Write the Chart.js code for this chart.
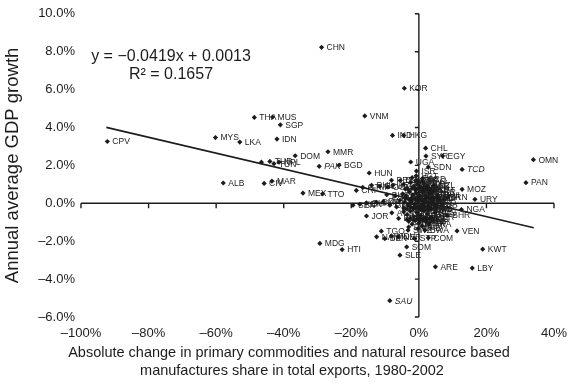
<!DOCTYPE html>
<html>
<head>
<meta charset="utf-8">
<script src="https://cdn.jsdelivr.net/npm/chart.js@4"></script>
<style>
  html, body { margin: 0; padding: 0; background: #fff; }
  #wrap { width: 577px; height: 388px; }
</style>
</head>
<body>
<div id="wrap"><canvas id="chart" width="577" height="388"></canvas></div>
<script>
"use strict";

// Country codes, export-structure change (%) and GDP growth (%)
const codes = [
  'CPV', 'MYS', 'LKA', 'THA', 'MUS', 'SGP', 'IDN', 'DOM', 'NPL', 'TUR', 'TUN', '',
  'ALB', 'CIV', 'MAR', 'MEX', 'TTO', 'PAK', 'BGD', 'MMR', 'CHN', 'KOR', 'VNM',
  'IND', 'HKG', 'CHL', 'SYR', 'EGY', 'UGA', 'SDN', 'ISR', 'TCD', 'OMN', 'PAN',
  'HUN', 'MOZ', 'URY', 'BRA', 'IRN', 'NGA', 'BHR', 'VEN', 'KWT', 'ARE', 'LBY',
  'SAU', 'SLE', 'SOM', 'JOR', 'TGO', 'MDG', 'HTI', 'BEN', 'NER', 'GAB', 'STP',
  'COM', 'BOL', 'ZAF',
  'CRI', 'GTM', 'PHL', 'ECU', 'COL', 'ARG', 'PRY',
  'SEN', 'KEN', 'GHA', 'CMR', 'ZWE', 'GMB', 'MRT', 'GIN',
  'JAM', 'HND', 'SLV', 'NIC', 'PNG', 'FJI', 'GUY', 'BRB', 'ISL', 'NZL',
  'AUS', 'CAN', 'USA', 'PER', 'URY', 'BFA', 'MLI', 'RWA', 'BDI', 'ZMB', 'MWI',
  'CAF', 'COG', 'ETH', 'TZA', 'NOR', 'DNK', 'FIN', 'GRC', 'PRT', 'ESP',
  'IRL', 'ITA', 'FRA', 'BEL', 'NLD', 'AUT', 'CHE', 'SWE', 'GBR', 'JPN', 'CYP',
  'MLT', 'TON', 'WSM', 'VUT', 'SLB', 'KNA', 'LCA', 'VCT',
  'GRD', 'DMA', 'ATG', 'BLZ', 'SUR', 'BHS', 'SWZ', 'BWA', 'NAM', 'MDV',
  'DZA', 'LSO', 'ZAR', 'LAO', 'KHM', 'MNG',
  'BTN', 'ECU', 'DJI', 'GNB', 'ERI', 'YEM', 'TJK', 'KGZ', 'MDA',
  'ARM', 'GEO', 'AZE', 'KAZ', 'UZB', 'TKM', 'BLR', 'UKR', 'RUS',
  'POL', 'CZE', 'SVK', 'SVN', 'HRV', 'BIH', 'MKD', 'ROM', 'BGR',
  'EST', 'LVA', 'LTU', 'QAT', 'LBN', 'IRQ', 'AFG', 'PRK', 'MAC'
];
const shareChange = [
  -92.2, -60.2, -53.0, -48.7, -43.3, -41.0, -42.0, -36.6, -41.4, -44.1, -42.9, -46.6,
  -57.9, -45.8, -43.5, -34.3, -28.5, -29.5, -23.6, -26.9, -28.8, -4.3, -16.0,
  -7.8, -4.5, 2.0, 2.1, 7.0, -2.4, 2.8, -0.7, 12.8, 33.9, 31.7,
  -14.7, 12.8, 16.6, 5.6, 8.6, 12.6, 8.4, 11.3, 18.9, 4.9, 15.8,
  -8.6, -5.6, -3.6, -15.5, -11.1, -29.3, -22.7, -10.1, -6.1, -0.2, -1.2,
  2.8, -5.5, -0.5,
  -18.5, -16.6, -14.0, -11.6, -9.2, -7.7, -8.1,
  -19.5, -17.5, -15.5, -12.5, -10.5, -8.6, -6.6, -5.6,
  -4.5, -3.5, -2.5, -1.5, -0.5, 0.5, 1.5, 2.5, 3.5, 4.5,
  -4.8, -3.8, -2.8, -1.8, -0.8, 0.2, 1.2, 2.2, 3.2, 4.2, 5.5,
  -4.2, -3.2, -2.2, -1.2, -0.2, 0.8, 1.8, 2.8, 3.8, 5.0,
  -4.5, -3.5, -2.5, -1.5, -0.5, 0.5, 1.5, 2.5, 3.5, 4.8, -3.0,
  -2.0, -1.0, 0.0, 1.0, 2.0, 3.0, -2.0, -0.8,
  1.0, -3.0, -8.0, -6.0, -7.0, -9.5, -3.2, 1.8, -12.5, -8.1,
  -1.6, 0.6, -2.6, 3.4, -1.0, 1.4,
  -4.0, -3.0, -2.0, -1.0, 0.0, 1.0, 2.0, 3.0, 4.0,
  -4.5, -3.5, -2.5, -1.5, -0.5, 0.5, 1.5, 2.5, 3.5,
  -4.0, -3.0, -2.0, -1.0, 0.0, 1.0, 2.0, 3.0, 4.0,
  -3.5, -2.5, -1.5, -0.5, 0.5, 1.5, 2.5, -1.0, 1.0
];
const gdpGrowth = [
  3.26, 3.47, 3.23, 4.53, 4.55, 4.14, 3.39, 2.51, 2.17, 2.21, 2.09, 2.17,
  1.07, 1.05, 1.17, 0.54, 0.50, 1.95, 2.02, 2.72, 8.23, 6.07, 4.61,
  3.58, 3.58, 2.91, 2.49, 2.49, 2.18, 1.91, 1.70, 1.79, 2.30, 1.09,
  1.60, 0.74, 0.21, 0.30, 0.30, -0.33, -0.63, -1.46, -2.42, -3.35, -3.42,
  -5.14, -2.74, -2.30, -0.67, -1.47, -2.12, -2.44, -1.86, -1.77, -1.33, -1.86,
  -1.82, 1.20, 1.20,
  0.68, 0.84, 0.95, 0.89, 0.86, 0.95, 1.21,
  -0.10, -0.05, 0.02, 0.05, 0.10, -0.10, -0.19, 0.16,
  1.00, 0.80, 1.10, 0.90, 1.00, 0.85, 1.05, 0.90, 0.70, 0.95,
  0.50, 0.40, 0.60, 0.45, 0.55, 0.40, 0.60, 0.35, 0.50, 0.30, 0.45,
  0.05, -0.10, 0.10, -0.05, 0.12, -0.10, 0.05, -0.15, 0.00, -0.20,
  -0.45, -0.60, -0.40, -0.70, -0.50, -0.65, -0.40, -0.55, -0.75, -0.50, -0.95,
  -1.10, -0.90, -1.05, -1.20, -0.95, -1.10, 1.35, 1.45,
  1.30, -1.25, -0.50, -0.80, 0.40, 0.45, -1.42, -1.42, -1.77, -1.72,
  -0.25, 0.20, -0.80, -0.30, 0.75, -0.85,
  0.25, 0.20, 0.30, 0.22, 0.28, 0.18, 0.24, 0.26, 0.15,
  -0.25, -0.30, -0.20, -0.28, -0.22, -0.30, -0.18, -0.32, -0.25,
  0.75, 0.70, 0.80, 0.72, 0.78, 0.70, 0.76, 0.68, 0.60,
  -0.85, -0.80, -0.90, -0.82, -0.88, -0.78, -0.84, 1.20, 1.15
];
const italicCodes = ['TCD', 'SAU', 'PAK'];

// Fitted trend, as printed on the chart
const slope = -0.0419;
const intercept = 0.0013;
const trendEnds = [-92.5, 34];
const equationLines = ['y = \u22120.0419x + 0.0013', 'R\u00B2 = 0.1657'];

const xTitle = [
  'Absolute change in primary commodities and natural resource based',
  'manufactures share in total exports, 1980-2002'
];
const yTitle = 'Annual average GDP growth';

const fontFamily = '"Liberation Sans", Arial, sans-serif';
const ink = '#1c1c1c';

const points = shareChange.map((x, i) => ({ x: x, y: gdpGrowth[i], code: codes[i] || '' }));
const trend = trendEnds.map(x => ({ x: x, y: (slope * x / 100 + intercept) * 100 }));

function pct(v, digits) {
  const s = Math.abs(v).toFixed(digits) + '%';
  return v < 0 ? '\u2013' + s : s;
}

// Axes crossing at the origin, with their little tick marks
const originAxes = {
  id: 'originAxes',
  beforeDatasetsDraw(chart) {
    const { ctx, scales: { x, y } } = chart;
    const x0 = x.getPixelForValue(0);
    const y0 = y.getPixelForValue(0);
    ctx.save();
    ctx.strokeStyle = ink;
    ctx.lineWidth = 1.4;
    ctx.beginPath();
    ctx.moveTo(x.getPixelForValue(x.min), y0);
    ctx.lineTo(x.getPixelForValue(x.max), y0);
    ctx.moveTo(x0, y.getPixelForValue(y.min));
    ctx.lineTo(x0, y.getPixelForValue(y.max));
    x.ticks.forEach(t => {
      const px = x.getPixelForValue(t.value);
      ctx.moveTo(px, y0);
      ctx.lineTo(px, y0 + 5);
    });
    y.ticks.forEach(t => {
      const py = y.getPixelForValue(t.value);
      ctx.moveTo(x0, py);
      ctx.lineTo(x0 - 4, py);
    });
    ctx.stroke();
    ctx.restore();
  }
};

// Country codes beside each marker, the regression equation and the x title
const pointLabels = {
  id: 'pointLabels',
  afterDatasetsDraw(chart) {
    const { ctx } = chart;
    const meta = chart.getDatasetMeta(1);
    ctx.save();
    ctx.fillStyle = ink;
    ctx.textBaseline = 'middle';
    ctx.textAlign = 'left';
    meta.data.forEach((el, i) => {
      const code = points[i].code;
      if (!code) return;
      const style = italicCodes.includes(code) ? 'italic ' : '';
      ctx.font = style + '8.5px ' + fontFamily;
      ctx.fillText(code, el.x + 5, el.y + 0.5);
    });
    ctx.textAlign = 'center';
    ctx.font = '16px ' + fontFamily;
    ctx.fillText(equationLines[0], 171, 57);
    ctx.fillText(equationLines[1], 171, 75);
    ctx.font = '14.5px ' + fontFamily;
    ctx.fillText(xTitle[0], 289, 353);
    ctx.fillText(xTitle[1], 292, 371);
    ctx.restore();
  }
};

new Chart(document.getElementById('chart'), {
  type: 'scatter',
  data: {
    datasets: [
      {
        type: 'line',
        data: trend,
        borderColor: ink,
        borderWidth: 1.6,
        pointRadius: 0,
        fill: false
      },
      {
        data: points,
        pointStyle: 'rectRot',
        pointRadius: 2.6,
        backgroundColor: ink,
        borderColor: ink,
        borderWidth: 0
      }
    ]
  },
  options: {
    responsive: false,
    animation: false,
    layout: { padding: { top: 13, right: 23, left: 0, bottom: 0 } },
    plugins: {
      legend: { display: false },
      tooltip: { enabled: false }
    },
    scales: {
      x: {
        type: 'linear',
        min: -100,
        max: 40,
        grid: { display: false, drawTicks: false },
        border: { display: false },
        ticks: {
          stepSize: 20,
          padding: 9,
          color: ink,
          font: { family: fontFamily, size: 13 },
          callback: v => pct(v, 0)
        },
        afterFit(scale) { scale.height = 71; }
      },
      y: {
        min: -6,
        max: 10,
        grid: { display: false, drawTicks: false },
        border: { display: false },
        ticks: {
          stepSize: 2,
          padding: 6,
          color: ink,
          font: { family: fontFamily, size: 13 },
          callback: v => pct(v, 1)
        },
        title: {
          display: true,
          text: yTitle,
          color: ink,
          font: { family: fontFamily, size: 18.5 },
          padding: { top: 2, bottom: 0 }
        },
        afterFit(scale) { scale.width = 81; }
      }
    }
  },
  plugins: [originAxes, pointLabels]
});
</script>
</body>
</html>
